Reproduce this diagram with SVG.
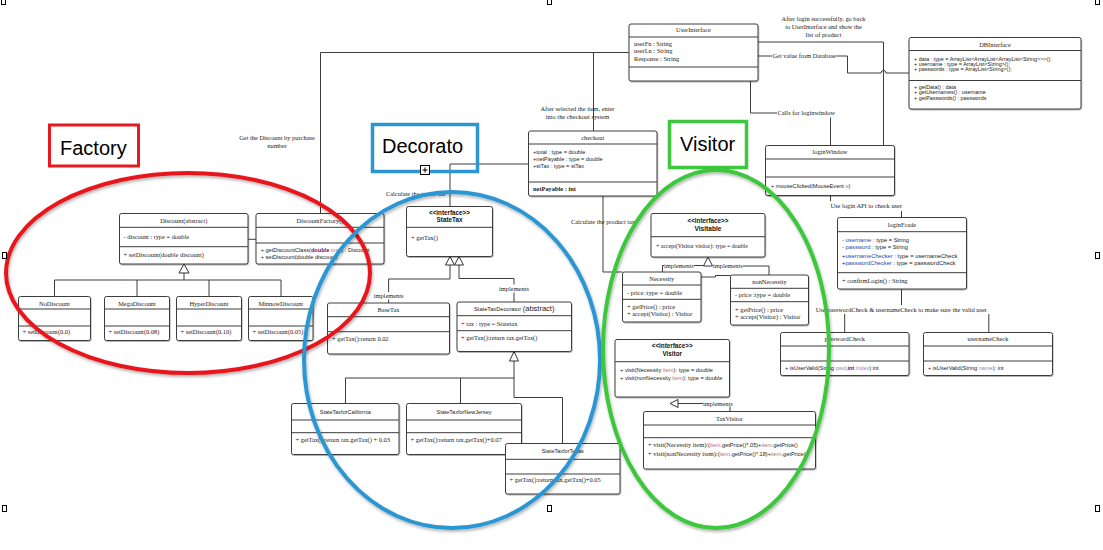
<svg xmlns="http://www.w3.org/2000/svg" width="1103" height="550" viewBox="0 0 1103 550">
<defs>
<filter id="sh" x="-10%" y="-10%" width="120%" height="130%"><feDropShadow dx="0.6" dy="1" stdDeviation="0.7" flood-color="#000" flood-opacity="0.3"/></filter>
<filter id="esh" x="-10%" y="-10%" width="120%" height="120%"><feDropShadow dx="1" dy="2" stdDeviation="1.5" flood-color="#000" flood-opacity="0.3"/></filter>
<style>
.b{fill:#fff;stroke:#3c3c3c;stroke-width:1;filter:url(#sh)}
.d{stroke:#3c3c3c;stroke-width:1}
.c{fill:none;stroke:#3c3c3c;stroke-width:1}
.tri{fill:#fff;stroke:#333;stroke-width:1}
.s{font-family:"Liberation Serif",serif;font-size:6.4px;fill:#222}
.a{font-family:"Liberation Sans",sans-serif;font-size:5.6px;fill:#222}
.m{text-anchor:middle}
.bo{font-weight:bold}
.h{font-family:"Liberation Sans",sans-serif;font-size:6.3px;font-weight:bold;fill:#111;text-anchor:middle}
.pu{fill:#7f0055;font-weight:bold}
.lp{fill:#9b7fb3}
.bl{fill:#2d44a8}
.it{fill:#c46a6a}
.lbl{font-family:"Liberation Sans",sans-serif;font-size:20px;fill:#000}
.el{fill:none;stroke-width:4;filter:url(#esh)}
.hd{fill:#fff;stroke:#000;stroke-width:1}
</style>
</defs>
<rect width="1103" height="550" fill="#fff"/>

<g id="connectors">
<polyline class="c" points="320.5,213.5 320.5,52.5 629,52.5"/>
<polyline class="c" points="593.5,52.5 593.5,131"/>
<polyline class="c" points="758,42 883.5,42 883.5,145.5"/>
<polyline class="c" points="758,56 772,56"/>
<path class="c" d="M836.5 56 H847.5 V73 H881 A2.5 2.5 0 0 1 886 73 H909"/>
<polyline class="c" points="750.5,81 750.5,113 777,113"/>
<polyline class="c" points="830.5,117.5 830.5,145.5"/>
<polyline class="c" points="528.5,164 450,164 450,206.5"/>
<polyline class="c" points="603,196 603,272 622.5,272"/>
<polyline class="c" points="830.5,195.5 830.5,201"/>
<polyline class="c" points="901.5,211 901.5,217.5"/>
<polyline class="c" points="901.5,289 901.5,305"/>
<polyline class="c" points="844.7,314 844.7,332.5"/>
<polyline class="c" points="988.8,314 988.8,332.5"/>
<polyline class="c" points="248,239.3 256,239.3"/>
<polyline class="c" points="184,273 184,280"/>
<polyline class="c" points="54.5,296.5 54.5,280 281,280 281,296.5"/>
<polyline class="c" points="137,280 137,296.5"/>
<polyline class="c" points="209,280 209,296.5"/>
<polyline class="c" points="450,265 450,279 388.6,279 388.6,292"/>
<polyline class="c" points="388.6,299.5 388.6,303"/>
<polyline class="c" points="459,265 459,278.5 514,278.5 514,284.5"/>
<polyline class="c" points="514,292.5 514,302"/>
<polyline class="c" points="514,361 514,397.5 562.5,397.5 562.5,443.5"/>
<polyline class="c" points="345.5,403.5 345.5,378 514,378"/>
<polyline class="c" points="460.5,378 460.5,403.5"/>
<polyline class="c" points="662.5,272 662.5,265.5 664,265.5"/>
<polyline class="c" points="694,265.5 703.5,265.5"/>
<polyline class="c" points="743,266 769,266 769,275"/>
<polyline class="c" points="700.5,277 715.5,277 715.5,275.5 730.5,275.5"/>
<polyline class="c" points="678,403.5 703,403.5"/>
<polyline class="c" points="730,406.5 730,411.5"/>
<polygon class="tri" points="184,264 179,273 189,273"/>
<polygon class="tri" points="450,256.5 445.5,265 454.5,265"/>
<polygon class="tri" points="459,256.5 454.5,265 463.5,265"/>
<polygon class="tri" points="514,351.5 509.5,361 518.5,361"/>
<polygon class="tri" points="708,257 703.5,266 712.5,266"/>
<polygon class="tri" points="670,403.5 678,399.5 678,407.5"/>
<text class="s m" x="823.5" y="21.3">After login successfully, go back</text>
<text class="s m" x="823.5" y="29.1">to UserInterface and show the</text>
<text class="s m" x="823.5" y="37">list of product</text>
<text class="s" x="772.5" y="58.2">Get value from Database</text>
<text class="s" x="777.5" y="115.2">Calls for loginwindow</text>
<text class="s m" x="577.5" y="111.2">After selected the item, enter</text>
<text class="s m" x="577.5" y="119">into the checkout system</text>
<text class="s m" x="277" y="139.9">Get the Discount by purchase</text>
<text class="s m" x="277" y="147.9">number</text>
<text class="s" x="386" y="196.4">Calculate the tax of the</text>
<text class="s" x="571" y="223.9">Calculate the product tax</text>
<text class="s" x="830.5" y="208.2">Use login API to check user</text>
<text class="s" x="815.7" y="311.5">Use passwordCheck &amp; usernameCheck to make sure the valid user</text>
<text class="s m" x="388.6" y="298.4">implements</text>
<text class="s m" x="514" y="290.8">implements</text>
<text class="s" x="664" y="267.6">implements</text>
<text class="s" x="713" y="268.1">implements</text>
<text class="s" x="703" y="405.6">implements</text>
</g>

<g id="userInterface">
<rect class="b" x="629" y="24" width="129" height="57" rx="2"/>
<line class="d" x1="629" y1="37" x2="758" y2="37"/>
<line class="d" x1="629" y1="67" x2="758" y2="67"/>
<text class="s m" x="693.5" y="31.6">UserInterface</text>
<text class="s" x="634" y="45.8">userFn : String</text>
<text class="s" x="634" y="53.2">userLn : String</text>
<text class="s" x="634" y="61">Response : String</text>
</g>

<g id="dbInterface">
<rect class="b" x="909" y="37.5" width="172" height="71.5" rx="2"/>
<line class="d" x1="909" y1="50.5" x2="1081" y2="50.5"/>
<line class="d" x1="909" y1="80.5" x2="1081" y2="80.5"/>
<text class="s m" x="995" y="46.8">DBInterface</text>
<text class="a" x="914" y="60.5" style="font-size:5.4px">+ data : type = ArrayList&lt;ArrayList&lt;ArrayList&lt;String&gt;&gt;&gt;();</text>
<text class="a" x="914" y="65.6" style="font-size:5.4px">+ username : type =  ArrayList&lt;String&gt;();</text>
<text class="a" x="914" y="70.6" style="font-size:5.4px">+ passwords : type =  ArrayList&lt;String&gt;();</text>
<text class="a" x="914" y="89.2" style="font-size:5.4px">+ getData() : data</text>
<text class="a" x="914" y="94.3" style="font-size:5.4px">+ getUsernames() : username</text>
<text class="a" x="914" y="99.5" style="font-size:5.4px">+ getPasswords() : passwords</text>
</g>

<g id="checkout">
<rect class="b" x="528.5" y="131" width="128.5" height="65" rx="2"/>
<line class="d" x1="528.5" y1="144" x2="657" y2="144"/>
<line class="d" x1="528.5" y1="182" x2="657" y2="182"/>
<text class="s m" x="592.75" y="140.2">checkout</text>
<text class="a" x="533" y="154.2">+total : type = double</text>
<text class="a" x="533" y="161.2">+netPayable : type = double</text>
<text class="a" x="533" y="168">+stTax : type = stTax</text>
<text class="s bo" x="533" y="190.8">netPayable : int</text>
</g>

<g id="loginWindow">
<rect class="b" x="765.5" y="145.5" width="129" height="50" rx="2"/>
<line class="d" x1="765.5" y1="159" x2="894.5" y2="159"/>
<line class="d" x1="765.5" y1="177" x2="894.5" y2="177"/>
<text class="s m" x="830" y="154.3">loginWindow</text>
<text class="a" x="771" y="188.3">+ mouseClicked(MouseEvent <tspan class="lp">e</tspan>)</text>
</g>

<g id="loginFcade">
<rect class="b" x="837.5" y="217.5" width="129" height="71.5" rx="2"/>
<line class="d" x1="837.5" y1="231.7" x2="966.5" y2="231.7"/>
<line class="d" x1="837.5" y1="272.7" x2="966.5" y2="272.7"/>
<text class="s m" x="902" y="226.5">loginFcade</text>
<text class="a" x="842" y="242.3" style="font-size:5.8px">- <tspan class="bl">username</tspan> : type = String</text>
<text class="a" x="842" y="249" style="font-size:5.8px">- <tspan class="bl">password</tspan> : type = String</text>
<text class="a" x="842" y="257.7" style="font-size:5.8px">+<tspan class="bl">usernameChecker</tspan> : type = usernameCheck</text>
<text class="a" x="842" y="265.3" style="font-size:5.8px">+<tspan class="bl">passwordChecker</tspan> : type = passwordCheck</text>
<text class="s" x="842" y="282.8">+ confirmLogin() : String</text>
</g>

<g id="passwordCheck">
<rect class="b" x="780.5" y="332.5" width="128.5" height="43" rx="2"/>
<line class="d" x1="780.5" y1="346" x2="909" y2="346"/>
<line class="d" x1="780.5" y1="361" x2="909" y2="361"/>
<text class="s m" x="844.75" y="340.5">passwordCheck</text>
<text class="a" x="785" y="369.7">+ isUserValid(String <tspan class="lp">pwd</tspan>,<tspan class="pu">int</tspan> <tspan class="lp">index</tspan>):int</text>
</g>

<g id="usernameCheck">
<rect class="b" x="923.5" y="332.5" width="129" height="43" rx="2"/>
<line class="d" x1="923.5" y1="346" x2="1052.5" y2="346"/>
<line class="d" x1="923.5" y1="361" x2="1052.5" y2="361"/>
<text class="s m" x="988" y="340.5">usernameCheck</text>
<text class="a" x="928" y="369.7">+ isUserValid(String <tspan class="lp">name</tspan>): int</text>
</g>

<g id="discount">
<rect class="b" x="119.5" y="213.5" width="128.5" height="50.5" rx="2"/>
<line class="d" x1="119.5" y1="227.3" x2="248" y2="227.3"/>
<line class="d" x1="119.5" y1="246.7" x2="248" y2="246.7"/>
<text class="s m" x="183.75" y="222.9">Discount(abstract)</text>
<text class="s" x="123.5" y="238.9">- discount : type = double</text>
<text class="s" x="123.5" y="256.5">+ setDiscount(double discount)</text>
</g>

<g id="discountFactory">
<rect class="b" x="256" y="213.5" width="128" height="50.5" rx="2"/>
<line class="d" x1="256" y1="227.3" x2="384" y2="227.3"/>
<line class="d" x1="256" y1="243" x2="384" y2="243"/>
<text class="s m" x="320" y="222.9">DiscountFactory()</text>
<text class="a" x="260.7" y="251.8">+ getDiscountClass(<tspan class="pu">double</tspan> <tspan class="lp">total</tspan>) : Discount</text>
<text class="a" x="260.7" y="259.3">+ setDiscount(double discount)</text>
</g>

<g id="noDiscount">
<rect class="b" x="18.5" y="296.5" width="72" height="44" rx="2"/>
<line class="d" x1="18.5" y1="309" x2="90.5" y2="309"/>
<line class="d" x1="18.5" y1="326" x2="90.5" y2="326"/>
<text class="s m" x="54.5" y="305.5">NoDiscount</text>
<text class="s" x="22.5" y="333.9">+ setDiscount(0.0)</text>
</g>
<g id="megaDiscount">
<rect class="b" x="104.5" y="296.5" width="65" height="44" rx="2"/>
<line class="d" x1="104.5" y1="309" x2="169.5" y2="309"/>
<line class="d" x1="104.5" y1="326" x2="169.5" y2="326"/>
<text class="s m" x="137" y="305.5">MegaDiscount</text>
<text class="s" x="108.5" y="333.9">+ setDiscount(0.08)</text>
</g>
<g id="hyperDiscount">
<rect class="b" x="176.5" y="296.5" width="65" height="44" rx="2"/>
<line class="d" x1="176.5" y1="309" x2="241.5" y2="309"/>
<line class="d" x1="176.5" y1="326" x2="241.5" y2="326"/>
<text class="s m" x="209" y="305.5">HyperDiscount</text>
<text class="s" x="180.5" y="333.9">+ setDiscount(0.10)</text>
</g>
<g id="minnowDiscount">
<rect class="b" x="248.5" y="296.5" width="64.5" height="44" rx="2"/>
<line class="d" x1="248.5" y1="309" x2="313" y2="309"/>
<line class="d" x1="248.5" y1="326" x2="313" y2="326"/>
<text class="s m" x="280.75" y="305.5">MinnowDiscount</text>
<text class="s" x="252.5" y="333.9">+ setDiscount(0.05)</text>
</g>

<g id="stateTax">
<rect class="b" x="406.5" y="206.5" width="86" height="50" rx="2"/>
<line class="d" x1="406.5" y1="227.3" x2="492.5" y2="227.3"/>
<text class="h" x="449.5" y="214.5">&lt;&lt;interface&gt;&gt;</text>
<text class="h" x="449.5" y="222.2">StateTax</text>
<text class="s" x="411" y="239.9">+ getTax()</text>
</g>

<g id="baseTax">
<rect class="b" x="327.5" y="303" width="122" height="51" rx="2"/>
<line class="d" x1="327.5" y1="316.7" x2="449.5" y2="316.7"/>
<line class="d" x1="327.5" y1="331.7" x2="449.5" y2="331.7"/>
<text class="s m" x="388.5" y="312.2">BaseTax</text>
<text class="s" x="332" y="341.2">+ getTax():return 0.02</text>
</g>

<g id="stateTaxDecorator">
<rect class="b" x="457" y="302" width="114.5" height="49.5" rx="2"/>
<line class="d" x1="457" y1="315.7" x2="571.5" y2="315.7"/>
<line class="d" x1="457" y1="330.7" x2="571.5" y2="330.7"/>
<text class="a m" x="514.25" y="311.4"><tspan style="font-size:5.7px">StateTaxDecorator</tspan> <tspan style="font-size:7.5px">(abstract)</tspan></text>
<text class="s" x="461" y="325.5">+ tax : type = Statetax</text>
<text class="s" x="461" y="339.9">+ getTax():return tax.getTax()</text>
</g>

<g id="stateTaxCalifornia">
<rect class="b" x="291.5" y="403.5" width="107.5" height="51" rx="2"/>
<line class="d" x1="291.5" y1="420" x2="399" y2="420"/>
<line class="d" x1="291.5" y1="432.7" x2="399" y2="432.7"/>
<text class="a m" x="345.25" y="414.3" style="font-size:5.5px">StateTaxforCalifornia</text>
<text class="s" x="295.5" y="442.2">+ getTax():return tax.getTax() + 0.03</text>
</g>
<g id="stateTaxNewJersey">
<rect class="b" x="406.5" y="403.5" width="115" height="51" rx="2"/>
<line class="d" x1="406.5" y1="420" x2="521.5" y2="420"/>
<line class="d" x1="406.5" y1="432.7" x2="521.5" y2="432.7"/>
<text class="a m" x="464" y="414.3" style="font-size:5.5px">StateTaxforNewJersey</text>
<text class="s" x="410.5" y="442.2">+ getTax():return tax.getTax()+0.07</text>
</g>
<g id="stateTaxTexas">
<rect class="b" x="505.5" y="443.5" width="114.5" height="50.5" rx="2"/>
<line class="d" x1="505.5" y1="459.3" x2="620" y2="459.3"/>
<line class="d" x1="505.5" y1="474" x2="620" y2="474"/>
<text class="a m" x="562.75" y="453.2" style="font-size:5.5px">StateTaxforTexas</text>
<text class="s" x="509.5" y="481.5">+ getTax():return tax.getTax()+0.05</text>
</g>

<g id="visitable">
<rect class="b" x="651" y="213.5" width="114" height="43.5" rx="2"/>
<line class="d" x1="651" y1="236.7" x2="765" y2="236.7"/>
<text class="h" x="708" y="222.7">&lt;&lt;interface&gt;&gt;</text>
<text class="h" x="708" y="230.7" style="font-size:6.6px">Visitable</text>
<text class="s" x="656" y="248.2" style="font-size:5.9px">+ accept(Visitor visitor): type = double</text>
</g>

<g id="necessity">
<rect class="b" x="622.5" y="272" width="78.5" height="50" rx="2"/>
<line class="d" x1="622.5" y1="285" x2="701" y2="285"/>
<line class="d" x1="622.5" y1="299.3" x2="701" y2="299.3"/>
<text class="s m" x="661.75" y="281.2">Necessity</text>
<text class="s" x="627" y="294.9">- price :type = double</text>
<text class="s" x="627" y="308.9">+ getPrice() : price</text>
<text class="s" x="627" y="316.2">+ accept(Visitor) : Visitor</text>
</g>
<g id="nonNecessity">
<rect class="b" x="730.5" y="275" width="78" height="50" rx="2"/>
<line class="d" x1="730.5" y1="288.3" x2="808.5" y2="288.3"/>
<line class="d" x1="730.5" y1="301.7" x2="808.5" y2="301.7"/>
<text class="s m" x="769.5" y="283.9">nonNecessity</text>
<text class="s" x="735" y="297.2">- price :type = double</text>
<text class="s" x="735" y="311.5">+ getPrice() : price</text>
<text class="s" x="735" y="318.9">+ accept(Visitor) : Visitor</text>
</g>

<g id="visitor">
<rect class="b" x="615" y="339.5" width="114.5" height="57.5" rx="2"/>
<line class="d" x1="615" y1="361.7" x2="729.5" y2="361.7"/>
<text class="h" x="672.25" y="347.9">&lt;&lt;interface&gt;&gt;</text>
<text class="h" x="672.25" y="356.2">Visitor</text>
<text class="a" x="620" y="372" style="font-size:5.7px">+ visit(Necessity <tspan class="it">item</tspan>): type = double</text>
<text class="a" x="620" y="380" style="font-size:5.7px">+ visit(nonNecessity <tspan class="it">item</tspan>): type = double</text>
</g>

<g id="taxVisitor">
<rect class="b" x="643.5" y="411.5" width="172" height="57.5" rx="2"/>
<line class="d" x1="643.5" y1="425" x2="815.5" y2="425"/>
<line class="d" x1="643.5" y1="437.7" x2="815.5" y2="437.7"/>
<text class="s m" x="729.5" y="420.5">TaxVisitor</text>
<text class="s" x="648" y="447.2">+ visit(Necessity item):<tspan class="a">(<tspan class="it">item</tspan>.getPrice()*.05)+<tspan class="it">item</tspan>.getPrice()</tspan></text>
<text class="s" x="648" y="455.5">+ visit(nonNecessity item):<tspan class="a">(<tspan class="it">item</tspan>.getPrice()*.18)+<tspan class="it">item</tspan>.getPrice()</tspan></text>
</g>

<g id="patternLabels">
<rect x="49.5" y="125" width="89" height="41" fill="none" stroke="#e8191f" stroke-width="3"/>
<text class="lbl" x="60" y="154.5">Factory</text>
<rect x="372.5" y="124.5" width="105" height="47" fill="none" stroke="#2b96d3" stroke-width="3.5"/>
<text class="lbl" x="382" y="153">Decorato</text>
<rect x="669.5" y="121.5" width="77" height="46" fill="none" stroke="#3cc73c" stroke-width="3.5"/>
<text class="lbl" x="680" y="151">Visitor</text>
<rect x="420.5" y="165.5" width="9" height="9" fill="#fff" stroke="#000" stroke-width="1"/>
<path d="M425 167.5 V172.5 M422.5 170 H427.5" stroke="#000" stroke-width="1"/>
</g>

<g id="groupEllipses">
<ellipse class="el" cx="188" cy="273" rx="182" ry="100" stroke="#e8191f"/>
<ellipse class="el" cx="452" cy="360" rx="148" ry="168" stroke="#2b96d3"/>
<ellipse class="el" cx="716" cy="349" rx="113" ry="179" stroke="#3cc73c"/>
</g>

<g id="handles">
<rect class="hd" x="1.5" y="-1.5" width="4" height="6"/>
<rect class="hd" x="547.5" y="-1.5" width="4" height="6"/>
<rect class="hd" x="1095.5" y="-1.5" width="4" height="6"/>
<rect class="hd" x="2.5" y="252.5" width="4" height="6"/>
<rect class="hd" x="1095.5" y="252.5" width="4" height="6"/>
<rect class="hd" x="2.5" y="505.5" width="4" height="6"/>
<rect class="hd" x="547.5" y="505.5" width="4" height="6"/>
<rect class="hd" x="1095.5" y="505.5" width="4" height="6"/>
</g>
</svg>
